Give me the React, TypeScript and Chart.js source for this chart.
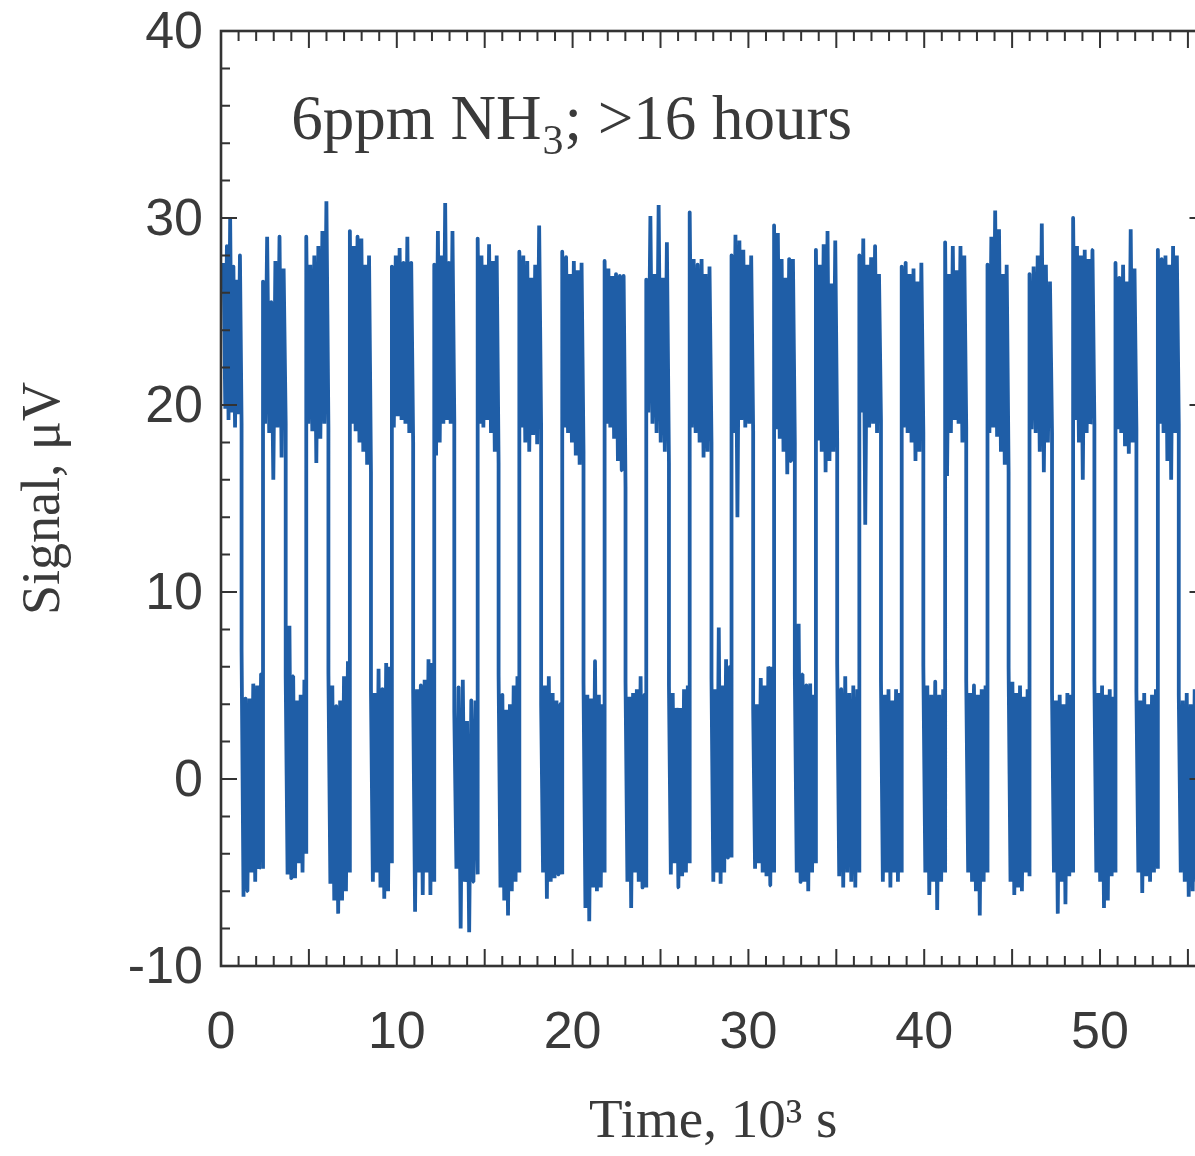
import { useEffect, useRef } from 'react';
import { Chart, registerables } from 'chart.js';

Chart.register(...registerables);

// ---- axes ----
const xTickLabels = [0, 10, 20, 30, 40, 50];
const yTickLabels = [-10, 0, 10, 20, 30, 40];
const xRange = [0, 56];
const yRange = [-10, 40];

// ---- texts ----
const xTitle = 'Time, 10\u00B3 s';
const yTitle = 'Signal, \u03BCV';
const annotationMain = '6ppm NH';
const annotationSub = '3';
const annotationTail = '; >16 hours';
const annotationAt = [4.0, 34.2];

// ---- data: switching times (10^3 s) between NH3-on (high) and NH3-off (low) periods ----
const dataStart = 0.15;
const dataEnd = 55.95;
const transitionTimes = [
  1.17, 2.39, 3.68, 4.85, 6.11, 7.33, 8.53, 9.72, 10.93, 12.13, 13.27, 14.6, 15.79, 16.97, 18.21,
  19.41, 20.62, 21.82, 23.01, 24.19, 25.48, 26.66, 27.9, 29.04, 30.27, 31.46, 32.64, 33.84, 35.05,
  36.31, 37.54, 38.72, 39.95, 41.19, 42.39, 43.6, 44.8, 45.99, 47.27, 48.47, 49.68, 50.88, 52.07,
  53.29, 54.48,
];

// signal samples (µV) during each high period
const highSegments = [
  [27.6, 19.8, 28.5, 19.2, 30.0, 19.6, 27.4, 18.8, 26.7, 19.5, 28.0, 19.0],
  [26.6, 19.0, 29.0, 18.5, 25.5, 16.0, 27.7, 18.8, 29.0, 17.2, 27.3, 19.0],
  [29.0, 19.0, 27.5, 18.6, 28.0, 16.9, 28.5, 18.2, 29.3, 19.0, 30.9, 18.8],
  [29.3, 19.0, 28.5, 18.6, 29.0, 18.0, 28.9, 17.5, 27.5, 16.8, 28.0, 16.4],
  [27.4, 18.8, 28.0, 19.4, 28.4, 19.2, 27.6, 19.0, 29.0, 18.5, 27.6, 18.0],
  [27.5, 17.3, 29.3, 18.0, 28.0, 19.0, 30.8, 19.2, 27.6, 19.0, 29.3, 19.2],
  [28.9, 19.0, 28.0, 18.8, 27.5, 19.2, 28.6, 18.5, 27.7, 17.5, 28.0, 16.9],
  [28.2, 18.8, 28.0, 18.0, 27.7, 17.5, 26.8, 18.4, 27.5, 17.9, 29.6, 18.7],
  [28.2, 18.8, 27.9, 18.5, 27.0, 18.0, 27.7, 17.3, 27.2, 16.8, 27.6, 17.5],
  [27.7, 19.0, 27.3, 18.8, 26.9, 18.2, 27.0, 17.0, 26.9, 16.5, 26.9, 15.6],
  [26.7, 19.6, 30.1, 19.0, 27.0, 18.5, 30.7, 18.0, 26.8, 17.5, 28.7, 16.9],
  [30.3, 18.8, 27.8, 18.5, 27.5, 18.0, 27.8, 17.2, 27.0, 17.5, 27.4, 18.0],
  [28.0, 18.5, 29.1, 14.0, 28.8, 19.2, 28.3, 18.8, 27.5, 19.0, 28.0, 18.6],
  [29.6, 18.7, 29.2, 18.2, 27.8, 17.5, 26.8, 16.3, 27.8, 17.0, 27.8, 18.0],
  [28.3, 18.1, 27.5, 17.5, 28.6, 16.4, 29.3, 17.0, 26.5, 17.5, 28.8, 18.0],
  [28.0, 19.6, 28.9, 13.6, 27.5, 18.8, 27.9, 19.0, 28.5, 18.5, 27.0, 19.2],
  [27.4, 18.8, 27.6, 18.5, 27.0, 18.0, 27.3, 17.0, 26.6, 17.5, 27.6, 18.5],
  [28.7, 16.2, 27.0, 18.5, 28.5, 19.2, 27.2, 19.0, 28.5, 18.0, 28.0, 18.8],
  [27.5, 18.5, 29.0, 18.8, 30.4, 18.3, 29.4, 17.5, 27.0, 16.8, 27.5, 16.4],
  [27.0, 18.7, 27.4, 18.5, 28.0, 17.5, 29.7, 16.4, 27.5, 18.0, 26.6, 18.5],
  [30.0, 19.2, 28.5, 18.0, 28.0, 16.0, 28.3, 18.5, 27.8, 19.0, 28.3, 19.0],
  [27.6, 18.7, 26.8, 18.5, 27.5, 17.8, 26.6, 17.4, 29.4, 18.0, 27.3, 18.7],
  [28.3, 19.0, 27.8, 18.5, 28.0, 17.0, 27.5, 16.0, 28.5, 18.5, 28.0, 19.0],
];

// signal samples (µV) during each low period
const lowSegments = [
  [6.9, -6.3, 4.3, -6.0, 4.3, -5.0, 5.1, -5.5, 5.0, -4.8, 5.6, -4.8],
  [5.5, -5.1, 8.2, -5.3, 5.5, -5.3, 4.2, -4.5, 4.5, -5.0, 5.3, -4.0],
  [5.7, -5.6, 5.0, -6.5, 3.9, -7.2, 4.2, -6.5, 5.5, -6.0, 6.3, -5.0],
  [4.8, -5.5, 4.6, -5.0, 5.9, -5.8, 4.8, -6.4, 6.2, -6.0, 6.0, -4.5],
  [4.7, -7.1, 4.8, -5.0, 5.0, -6.2, 5.3, -5.0, 6.4, -6.2, 6.2, -5.5],
  [3.6, -4.8, 4.9, -8.0, 5.3, -5.5, 3.1, -8.2, 4.2, -5.5, 4.2, -5.1],
  [5.6, -5.8, 4.5, -6.5, 3.7, -7.3, 4.0, -6.0, 5.0, -5.5, 5.5, -5.0],
  [4.0, -5.0, 5.0, -6.4, 5.5, -5.5, 4.6, -5.3, 4.2, -5.1, 4.0, -5.1],
  [5.2, -6.9, 4.5, -7.6, 4.3, -5.8, 6.3, -6.0, 4.5, -5.8, 4.0, -5.0],
  [5.2, -5.5, 4.4, -6.9, 4.6, -5.0, 4.8, -5.5, 5.5, -5.8, 4.5, -5.8],
  [5.0, -5.1, 4.6, -4.5, 3.8, -5.8, 3.8, -5.2, 4.8, -5.0, 5.0, -4.5],
  [5.4, -5.5, 4.8, -5.0, 8.1, -5.6, 5.0, -5.0, 6.4, -4.2, 6.0, -4.2],
  [3.8, -4.8, 4.0, -4.5, 5.4, -5.0, 5.0, -5.2, 6.0, -5.7, 6.0, -5.0],
  [5.6, -5.0, 8.3, -5.5, 5.6, -5.5, 5.0, -6.0, 5.1, -5.0, 4.5, -4.5],
  [6.2, -5.2, 4.8, -5.8, 5.5, -5.0, 4.6, -5.5, 5.0, -5.8, 4.8, -5.0],
  [5.3, -5.5, 4.5, -5.0, 4.8, -5.8, 4.2, -5.0, 4.8, -5.5, 4.6, -5.0],
  [6.1, -5.0, 5.0, -6.2, 4.5, -5.5, 5.2, -7.0, 4.5, -5.5, 4.8, -5.0],
  [5.3, -5.0, 4.6, -5.5, 5.0, -6.0, 4.5, -7.3, 4.8, -5.5, 5.0, -5.0],
  [6.0, -5.5, 5.2, -6.2, 4.6, -5.8, 5.0, -6.0, 4.4, -5.0, 4.8, -5.2],
  [4.7, -5.0, 4.2, -7.2, 4.5, -5.5, 4.0, -6.7, 4.6, -5.2, 4.5, -5.0],
  [5.3, -5.0, 4.6, -5.5, 5.0, -6.9, 4.5, -6.5, 4.8, -5.2, 4.4, -5.0],
  [4.7, -5.0, 4.2, -6.1, 4.6, -5.2, 4.0, -5.5, 4.5, -5.0, 4.8, -4.8],
  [4.5, -5.0, 4.2, -5.5, 4.6, -6.3, 4.0, -6.0, 4.8, -5.5, 4.5, -5.0, 4.4, -5.2],
];

// ---- styles ----
const lineColor = '#1f5ea7';
const textColor = '#3a3a3a';
const frameColor = '#333333';
const sansFont = "'Liberation Sans', Arial, sans-serif";
const serifFont = "'Liberation Serif', 'Times New Roman', serif";

function buildPoints() {
  const bounds = [dataStart, ...transitionTimes, dataEnd];
  const pts: { x: number; y: number }[] = [];
  for (let s = 0; s < bounds.length - 1; s++) {
    const vals = s % 2 === 0 ? highSegments[s / 2] : lowSegments[(s - 1) / 2];
    if (!vals) continue;
    const t0 = bounds[s];
    const t1 = bounds[s + 1];
    const n = vals.length;
    vals.forEach((v, i) => pts.push({ x: t0 + ((t1 - t0) * i) / (n - 1), y: v }));
  }
  return pts;
}

const framePlugin = {
  id: 'frameAndTicks',
  afterDraw(chart: any) {
    const { ctx, chartArea: a, scales } = chart;
    const x = scales.x;
    const y = scales.y;
    ctx.save();
    ctx.strokeStyle = frameColor;
    ctx.lineCap = 'butt';
    ctx.lineWidth = 2;
    ctx.beginPath();
    for (let v = xRange[0] + 1; v < xRange[1]; v += 1) {
      const px = x.getPixelForValue(v);
      const len = v % 5 === 0 ? 17 : 10;
      ctx.moveTo(px, a.bottom);
      ctx.lineTo(px, a.bottom - len);
      ctx.moveTo(px, a.top);
      ctx.lineTo(px, a.top + len);
    }
    for (let v = yRange[0] + 2; v < yRange[1]; v += 2) {
      const py = y.getPixelForValue(v);
      const len = v % 10 === 0 ? 16 : 9;
      ctx.moveTo(a.left, py);
      ctx.lineTo(a.left + len, py);
      ctx.moveTo(a.right, py);
      ctx.lineTo(a.right - len, py);
    }
    ctx.stroke();
    ctx.lineWidth = 2.6;
    ctx.strokeRect(a.left, a.top, a.right - a.left, a.bottom - a.top);

    // annotation
    let ax = x.getPixelForValue(annotationAt[0]);
    const ay = y.getPixelForValue(annotationAt[1]);
    ctx.fillStyle = textColor;
    ctx.textBaseline = 'alphabetic';
    ctx.textAlign = 'left';
    ctx.font = `63px ${serifFont}`;
    ctx.fillText(annotationMain, ax, ay);
    ax += ctx.measureText(annotationMain).width;
    ctx.font = `42px ${serifFont}`;
    ctx.fillText(annotationSub, ax + 1, ay + 15);
    ax += ctx.measureText(annotationSub).width + 2;
    ctx.font = `63px ${serifFont}`;
    ctx.fillText(annotationTail, ax, ay);
    ctx.restore();
  },
};

export default function App() {
  const ref = useRef<HTMLCanvasElement | null>(null);
  useEffect(() => {
    if (!ref.current) return;
    const chart = new Chart(ref.current, {
      type: 'line',
      data: {
        datasets: [
          {
            data: buildPoints(),
            borderColor: lineColor,
            borderWidth: 3.8,
            borderJoinStyle: 'bevel',
            pointRadius: 0,
            tension: 0.001,
            fill: false,
          },
        ],
      },
      options: {
        animation: false,
        responsive: false,
        devicePixelRatio: 1,
        layout: { padding: { top: 31, right: 9.5, left: 0, bottom: 0 } },
        plugins: { legend: { display: false }, tooltip: { enabled: false } },
        scales: {
          x: {
            type: 'linear',
            min: xRange[0],
            max: xRange[1],
            grid: { display: false, drawTicks: false },
            border: { display: false },
            ticks: {
              stepSize: 10,
              includeBounds: false,
              padding: 36,
              color: textColor,
              font: { family: sansFont, size: 52 },
              maxRotation: 0,
              callback: (v: any) => (xTickLabels.includes(Number(v)) ? String(v) : ''),
            },
            title: {
              display: true,
              text: xTitle,
              color: textColor,
              font: { family: serifFont, size: 55 },
              padding: { top: 0, bottom: 0 },
            },
            afterFit: (s: any) => {
              s.height = 190;
              s.paddingLeft = 0;
              s.paddingRight = 0;
            },
          },
          y: {
            type: 'linear',
            min: yRange[0],
            max: yRange[1],
            grid: { display: false, drawTicks: false },
            border: { display: false },
            ticks: {
              stepSize: 10,
              padding: 18,
              labelOffset: 3,
              color: textColor,
              font: { family: sansFont, size: 52 },
              callback: (v: any) => (yTickLabels.includes(Number(v)) ? String(v) : ''),
            },
            title: {
              display: true,
              text: yTitle,
              color: textColor,
              font: { family: serifFont, size: 54 },
              padding: { top: 12, bottom: 0 },
            },
            afterFit: (s: any) => {
              s.width = 221;
              s.paddingTop = 0;
              s.paddingBottom = 0;
            },
          },
        },
      },
      plugins: [framePlugin],
    });
    return () => chart.destroy();
  }, []);
  return (
    <div
      style={{
        position: 'absolute',
        left: 0,
        top: 0,
        width: 1195,
        height: 1156,
        overflow: 'hidden',
        background: '#ffffff',
      }}
    >
      <canvas ref={ref} width={1215} height={1156} style={{ width: 1215, height: 1156, display: 'block' }} />
    </div>
  );
}
